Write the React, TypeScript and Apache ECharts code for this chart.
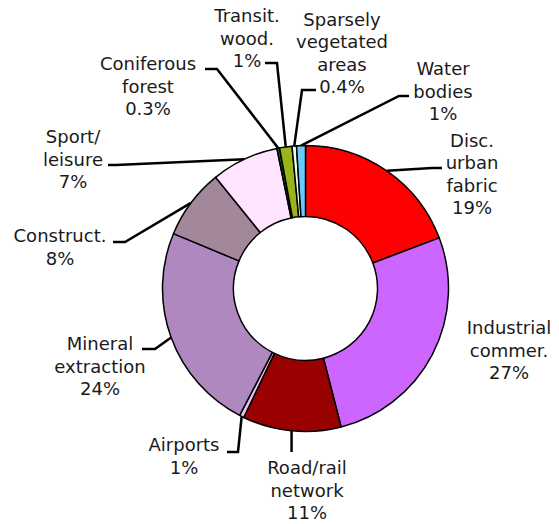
import React, { useEffect, useRef } from "react";
import * as echarts from "echarts";

const categories = [
  "Disc.\nurban\nfabric",
  "Industrial\ncommer.",
  "Road/rail\nnetwork",
  "Airports",
  "Mineral\nextraction",
  "Construct.",
  "Sport/\nleisure",
  "Coniferous\nforest",
  "Transit.\nwood.",
  "Sparsely\nvegetated\nareas",
  "Water\nbodies",
];
const pctLabels = ["19%", "27%", "11%", "1%", "24%", "8%", "7%", "0.3%", "1%", "0.4%", "1%"];
const values = [19.2, 26.7, 11.1, 0.5, 23.6, 7.9, 7.6, 0.3, 1.4, 0.5, 1.0];
const colors = [
  "#FF0000",
  "#CC66FF",
  "#990000",
  "#E8C4EC",
  "#AE88BE",
  "#A3879A",
  "#FFE4FF",
  "#006600",
  "#99B31A",
  "#E8FFE8",
  "#66CCFF",
];

// label placement: [centerX, centerY, attachX, attachY, elbowX, elbowY] ; attach null => no line, -1 => vertical line
const labelPlace: (number | null)[][] = [
  [472, 174, 442, 168, 432, 168],
  [509, 350, null, null, null, null],
  [307, 490, -1, 452, -1, 452],
  [184, 456, 227, 452, 238, 452],
  [100, 366, 142, 349, 155, 349],
  [60, 247, 113, 242, 125, 242],
  [73, 159, 108, 165, 116, 165],
  [148, 86, 205, 69, 217, 69],
  [247, 38, 265, 63, 277, 63],
  [342, 53, 316, 90, 302, 90],
  [443, 91, 409, 96, 399, 96],
];

export default function App() {
  const ref = useRef<HTMLDivElement>(null);
  useEffect(() => {
    document.body.style.margin = "0";
    if (!ref.current) return;
    const chart = echarts.init(ref.current, null, { renderer: "svg" });
    const data = values.map((v, i) => ({
      value: v,
      name: categories[i],
      itemStyle: { color: colors[i] },
      labelLine: { show: labelPlace[i][2] !== null },
    }));
    chart.setOption({
      animation: false,
      backgroundColor: "#ffffff",
      series: [
        {
          type: "pie",
          center: [305.5, 288.5],
          radius: [72, 143],
          startAngle: 90,
          clockwise: true,
          avoidLabelOverlap: false,
          data,
          itemStyle: { borderColor: "#000000", borderWidth: 1.5 },
          emphasis: { disabled: true },
          label: {
            show: true,
            position: "outside",
            formatter: (p: any) => `${categories[p.dataIndex]}\n${pctLabels[p.dataIndex]}`,
            fontFamily: "Verdana, 'DejaVu Sans', sans-serif",
            fontSize: 18,
            lineHeight: 22.5,
            color: "#1a1a1a",
            align: "center",
          },
          labelLine: {
            show: true,
            length: 10,
            length2: 10,
            lineStyle: { color: "#000000", width: 2.5 },
          },
          labelLayout: (params: any) => {
            const i = params.dataIndex;
            const lp = labelPlace[i];
            const res: any = {
              x: lp[0],
              y: lp[1],
              align: "center",
              verticalAlign: "middle",
            };
            const pts = params.labelLinePoints;
            if (lp[2] !== null && pts && pts[0]) {
              const a = pts[0];
              if (lp[2] === -1) {
                res.labelLinePoints = [
                  [a[0], a[1]],
                  [a[0], lp[3] as number],
                  [a[0], lp[3] as number],
                ];
              } else {
                res.labelLinePoints = [
                  [a[0], a[1]],
                  [lp[4], lp[5]],
                  [lp[2], lp[3]],
                ];
              }
            }
            return res;
          },
        },
      ],
    });
    return () => chart.dispose();
  }, []);
  return <div ref={ref} style={{ width: 559, height: 524 }} />;
}
